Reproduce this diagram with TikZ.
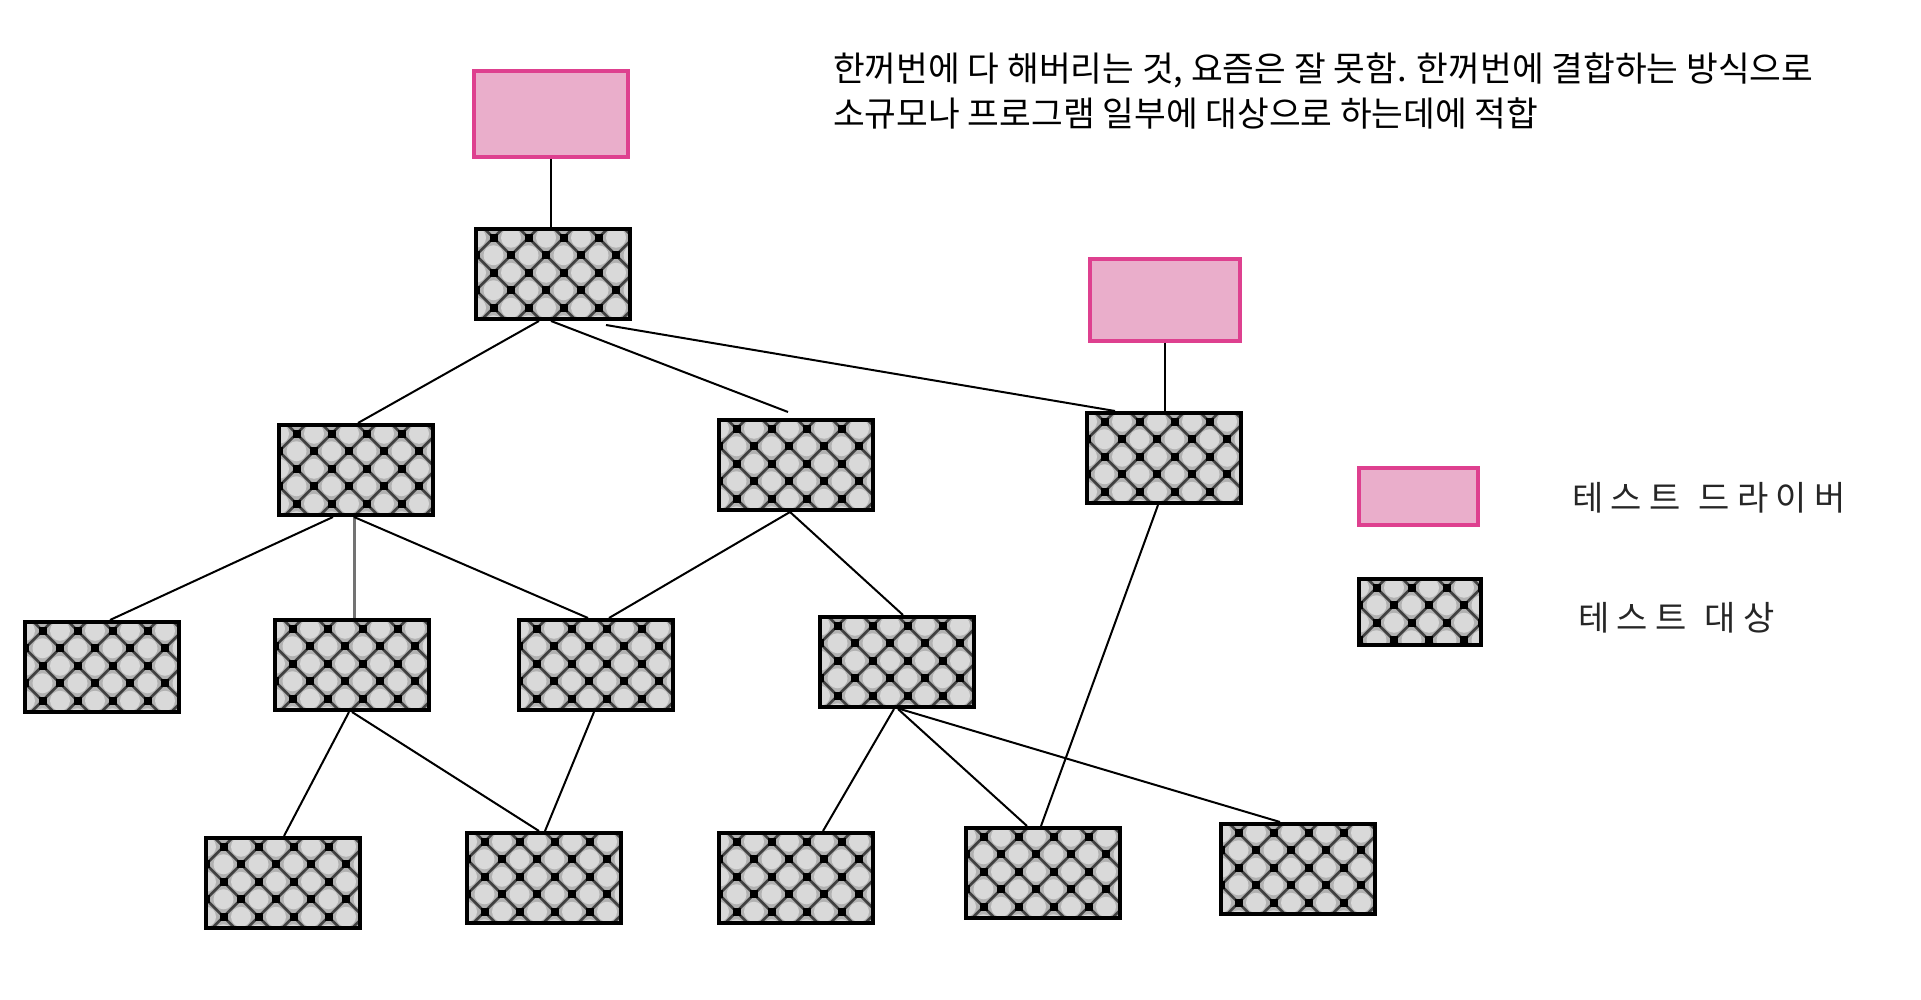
\documentclass[tikz,border=0pt]{standalone}
\usepackage{fontspec}
\newfontfamily\kr{Noto Sans CJK KR}
\newfontfamily\krl[LetterSpace=21,WordSpace=1.25]{Noto Sans CJK KR}
\definecolor{drvfill}{HTML}{EAAECB}
\definecolor{drvborder}{HTML}{DE408F}
% target node: name, cx, cy, w, h
\newcommand\tnode[5]{%
  \begin{scope}
    \clip (#2-#4/2, #3-#5/2) rectangle (#2+#4/2, #3+#5/2);
    \fill[black!45] (#2-#4/2, #3-#5/2) rectangle (#2+#4/2, #3+#5/2);
    \begin{scope}[shift={(#2-#4/2, #3-#5/2)}]
      \foreach \j in {-1,0,...,7}{
        \foreach \i in {-1,0,...,6}{
          \pgfmathsetmacro\cx{\i*35+mod(\j+10,2)*17.5}
          \pgfmathsetmacro\cy{8.75+\j*17.5}
          \fill[black!30] (\cx,\cy) circle (14pt);
          \fill[black!15] (\cx,\cy) circle (10pt);
        }
      }
      \foreach \k in {-6,-5,...,10}{
        \pgfmathsetmacro\ax{17.5+\k*35-40}
        \pgfmathsetmacro\bx{17.5+\k*35+40}
        \draw[black!75, line width=2.6pt] (\ax,-31.25) -- ++(220,220);
        \draw[black!75, line width=2.6pt] (\bx,-31.25) -- ++(-220,220);
      }
      \foreach \j in {-1,0,...,7}{
        \foreach \i in {-1,0,...,6}{
          \pgfmathsetmacro\cx{17.5+\i*35+mod(\j+10,2)*17.5}
          \pgfmathsetmacro\cy{8.75+\j*17.5}
          \fill[black] (\cx,\cy) ++(-4pt,-4pt) rectangle ++(8pt,8pt);
        }
      }
    \end{scope}
  \end{scope}
  \node[tgtframe, minimum width=#4pt, minimum height=#5pt] (#1) at (#2,#3) {};
}
\tikzset{
  tgtframe/.style={rectangle, draw=black, line width=4pt, inner sep=0pt},
  drv/.style={rectangle, draw=drvborder, fill=drvfill, line width=4pt,
    minimum width=154pt, minimum height=86pt, inner sep=0pt},
  conn/.style={draw=black, line width=2pt},
  toptext/.style={font=\kr\fontsize{34.5pt}{46pt}\selectfont, anchor=base west, inner sep=0pt},
  legtext/.style={font=\krl\fontsize{34pt}{40pt}\selectfont, text=black!85, anchor=base west, inner sep=0pt}
}
\begin{document}
\begin{tikzpicture}[x=1pt, y=-1pt]
\fill[white] (0,0) rectangle (1921,1000);
\useasboundingbox (0,0) rectangle (1921,1000);

% text
\node[toptext] (line1) at (833,82) {한꺼번에 다 해버리는 것, 요즘은 잘 못함. 한꺼번에 결합하는 방식으로};
\node[toptext] (line2) at (833,127) {소규모나 프로그램 일부에 대상으로 하는데에 적합};

% drivers
\node[drv] (D1) at (551,114) {};
\node[drv, minimum width=150pt, minimum height=81pt] (D2) at (1165,300) {};

% targets
\tnode{T1}{553}{274}{154}{90}
\tnode{T2}{356}{470}{154}{90}
\tnode{T3}{796}{465}{154}{90}
\tnode{T4}{1164}{458}{154}{90}
\tnode{T5}{102}{667}{154}{90}
\tnode{T6}{352}{665}{154}{90}
\tnode{T7}{596}{665}{154}{90}
\tnode{T8}{897}{662}{154}{90}
\tnode{T9}{283}{883}{154}{90}
\tnode{T10}{544}{878}{154}{90}
\tnode{T11}{796}{878}{154}{90}
\tnode{T12}{1043}{873}{154}{90}
\tnode{T13}{1298}{869}{154}{90}

% legend
\node[drv, minimum width=119pt, minimum height=57pt] (LD) at (1418,496) {};
\tnode{LT}{1420}{612}{122}{66}
\node[legtext] (LDt) at (1572,510) {테스트 드라이버};
\node[legtext] (LTt) at (1578,630) {테스트 대상};

% connectors
\draw[conn] (D1.south) -- (D1.south |- T1.north);
\draw[conn] (D2.south) -- (D2.south |- T4.north);
\draw[conn] ([xshift=-14pt]T1.south) -- ([xshift=2pt]T2.north);
\draw[conn] ([xshift=-2pt]T1.south) -- ([xshift=-8pt,yshift=6pt]T3.north);
\draw[conn] ([xshift=53pt,yshift=-4pt]T1.south) -- ([xshift=-49pt]T4.north);
\draw[conn] ([xshift=-23pt]T2.south) -- ([xshift=8pt]T5.north);
\draw[conn, draw=black!55, line width=3pt] ([xshift=-2pt]T2.south) -- ([xshift=2pt]T6.north);
\draw[conn] ([xshift=-2pt]T2.south) -- ([xshift=-8pt]T7.north);
\draw[conn] ([xshift=-6pt]T3.south) -- ([xshift=13pt]T7.north);
\draw[conn] ([xshift=-6pt]T3.south) -- ([xshift=6pt]T8.north);
\draw[conn] ([xshift=-6pt]T4.south) -- ([xshift=-2pt]T12.north);
\draw[conn] ([xshift=-3pt]T6.south) -- ([xshift=1pt]T9.north);
\draw[conn] (T6.south) -- ([xshift=-5pt]T10.north);
\draw[conn] ([xshift=-2pt]T7.south) -- ([xshift=1pt]T10.north);
\draw[conn] ([xshift=-3pt]T8.south) -- ([xshift=27pt]T11.north);
\draw[conn] ([xshift=1pt]T8.south) -- ([xshift=-16pt]T12.north);
\draw[conn] ([xshift=3pt]T8.south) -- ([xshift=-18pt]T13.north);
\end{tikzpicture}
\end{document}
